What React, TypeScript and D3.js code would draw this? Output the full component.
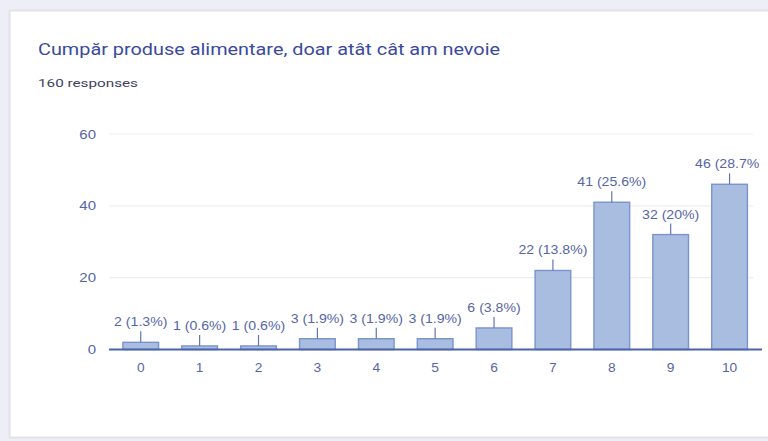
import React from "react";
import * as d3 from "d3";

const categories: string[] = ["0", "1", "2", "3", "4", "5", "6", "7", "8", "9", "10"];
const counts: number[] = [2, 1, 1, 3, 3, 3, 6, 22, 41, 32, 46];
const percentLabels: string[] = ["1.3%", "0.6%", "0.6%", "1.9%", "1.9%", "1.9%", "3.8%", "13.8%", "25.6%", "20%", "28.7%"];
const yTicks: number[] = [0, 20, 40, 60];
const title = "Cumpăr produse alimentare, doar atât cât am nevoie";
const subtitle = "160 responses";

const W = 768;
const H = 441;
const SX = 1.13; // horizontal stretch of the reference labels
const SXT = 1.2; // y tick stretch

export default function App() {
  const x = d3
    .scaleBand<string>()
    .domain(categories)
    .range([111.3, 759])
    .paddingInner(0.394)
    .paddingOuter(0.197);
  const y = d3.scaleLinear().domain([0, 60]).range([349.5, 134]);

  const labelColor = "#5566a6";

  return (
    <svg
      width={W}
      height={H}
      style={{ position: "fixed", left: 0, top: 0, display: "block" }}
      fontFamily="'Liberation Sans', Arial, sans-serif"
    >
      <defs>
        <clipPath id="plotClip">
          <rect x={0} y={0} width={760} height={H} />
        </clipPath>
      </defs>
      <rect x={0} y={0} width={W} height={H} fill="#eeeef7" />
      <rect x={9.5} y={10.5} width={W} height={427} fill="#ffffff" stroke="#e2e2ea" strokeWidth={2} />

      <text
        x={38}
        y={55}
        fontSize={17}
        fill="#3a4a9e"
        fontFamily="Roboto, 'Open Sans', sans-serif"
        textLength={462}
        lengthAdjust="spacingAndGlyphs"
      >
        {title}
      </text>
      <text
        x={38}
        y={87}
        fontSize={11.5}
        fill="#3d4260"
        fontFamily="Roboto, 'Open Sans', sans-serif"
        textLength={100}
        lengthAdjust="spacingAndGlyphs"
      >
        {subtitle}
      </text>

      {/* grid lines */}
      {yTicks.map((t) =>
        t === 0 ? null : (
          <line key={"g" + t} x1={109} x2={753} y1={y(t)} y2={y(t)} stroke="#efeff2" strokeWidth={1.2} />
        )
      )}

      {/* y tick labels */}
      {yTicks.map((t) => (
        <text
          key={"yt" + t}
          transform={`translate(96,${y(t) + 4.5}) scale(${SXT},1)`}
          textAnchor="end"
          fontSize={12.5}
          fill={labelColor}
        >
          {t}
        </text>
      ))}

      {/* bars */}
      {categories.map((c, i) => {
        const x0 = x(c) as number;
        const top = y(counts[i]);
        return (
          <rect
            key={"b" + c}
            x={x0}
            y={top}
            width={x.bandwidth()}
            height={y(0) - top}
            fill="#a9bde0"
            stroke="#7b93cf"
            strokeWidth={1.4}
          />
        );
      })}

      {/* baseline */}
      <line x1={109} x2={762} y1={y(0)} y2={y(0)} stroke="#4a64aa" strokeWidth={2} />

      {/* data labels */}
      <g clipPath="url(#plotClip)">
        {categories.map((c, i) => {
          const cx = (x(c) as number) + x.bandwidth() / 2;
          const top = y(counts[i]);
          return (
            <g key={"l" + c}>
              <line x1={cx} x2={cx} y1={top} y2={top - 11} stroke="#6176b8" strokeWidth={1.2} />
              <text
                transform={`translate(${cx},${top - 16}) scale(${SX},1)`}
                textAnchor="middle"
                fontSize={12.5}
                fill={labelColor}
              >
                {`${counts[i]} (${percentLabels[i]})`}
              </text>
            </g>
          );
        })}
      </g>

      {/* x tick labels */}
      {categories.map((c) => (
        <text
          key={"xt" + c}
          transform={`translate(${(x(c) as number) + x.bandwidth() / 2},${371.5}) scale(1.1,1)`}
          textAnchor="middle"
          fontSize={12.5}
          fill={labelColor}
        >
          {c}
        </text>
      ))}
    </svg>
  );
}
